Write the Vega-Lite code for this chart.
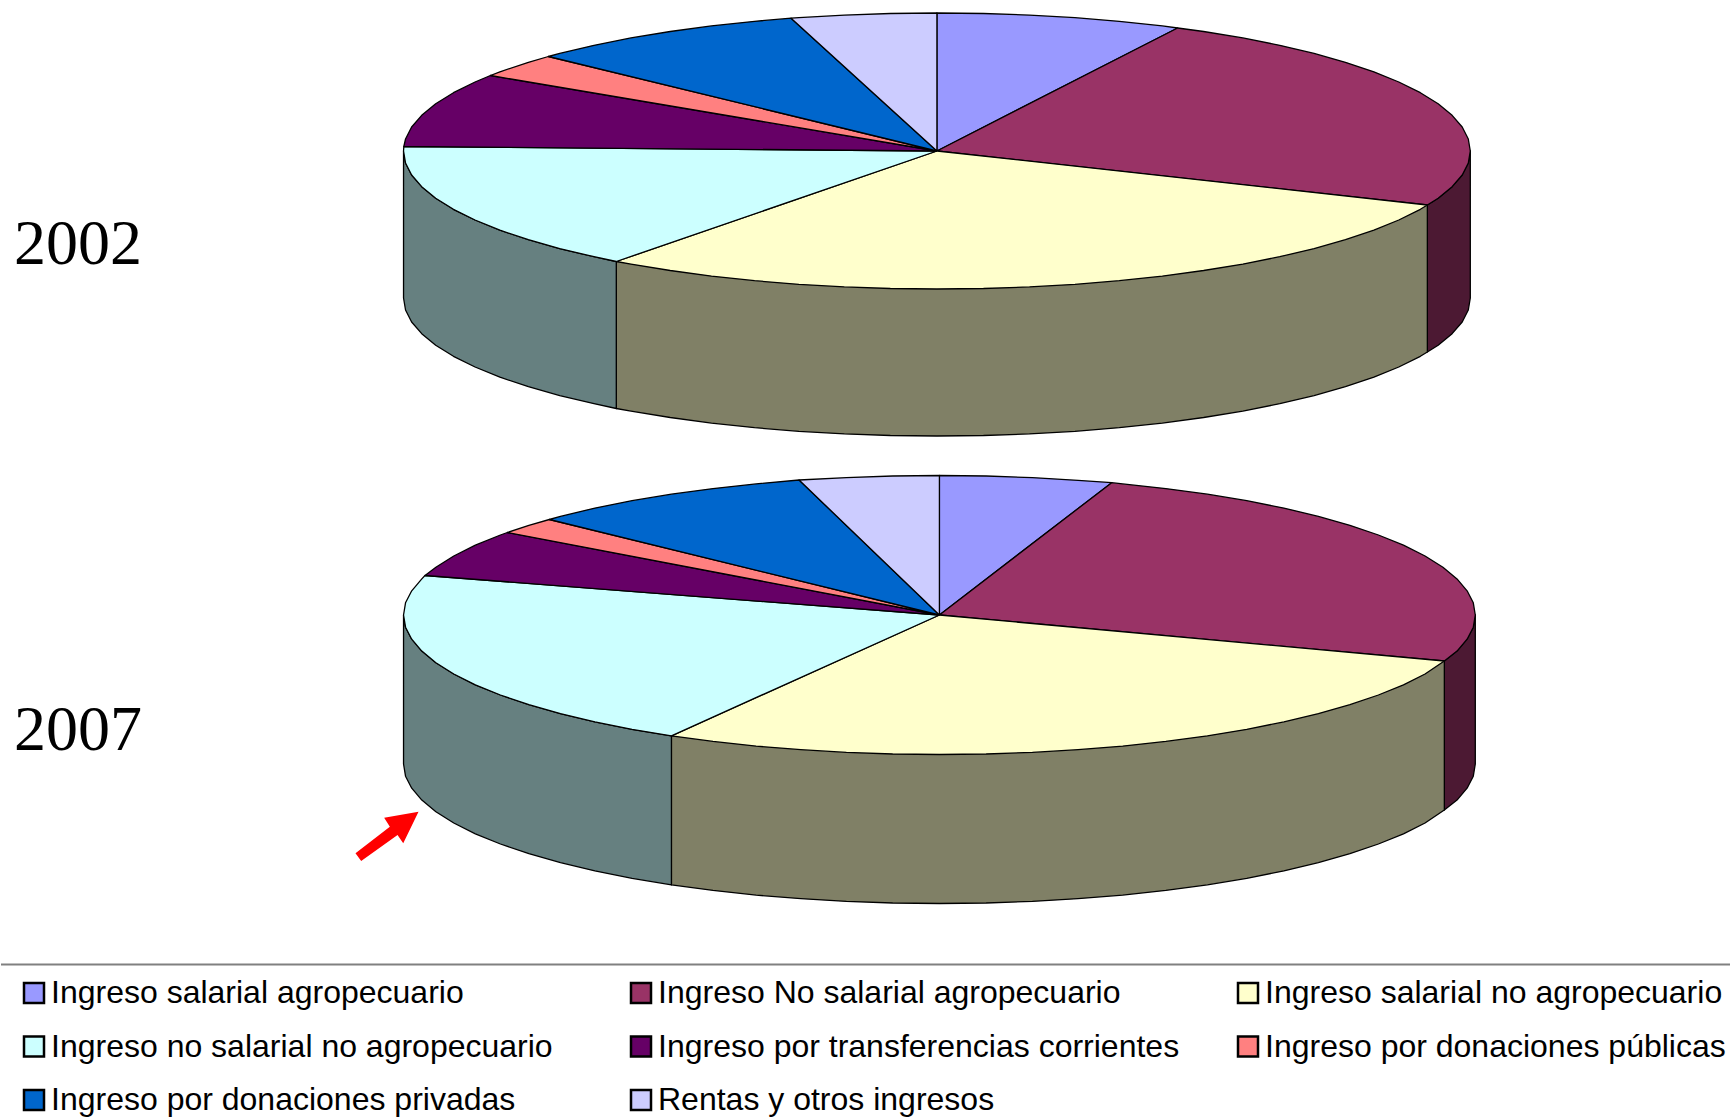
{"$schema":"https://vega.github.io/schema/vega-lite/v6.json","width":1731,"height":1117,"autosize":{"type":"fit","contains":"padding"},"padding":0,"background":"white","config":{"view":{"stroke":null}},
"datasets":{
"slices":[{"c":1,"name":"Ingreso salarial agropecuario"},{"c":2,"name":"Ingreso No salarial agropecuario"},{"c":3,"name":"Ingreso salarial no agropecuario"},{"c":4,"name":"Ingreso no salarial no agropecuario"},{"c":5,"name":"Ingreso por transferencias corrientes"},{"c":6,"name":"Ingreso por donaciones públicas"},{"c":7,"name":"Ingreso por donaciones privadas"},{"c":8,"name":"Rentas y otros ingresos"}],
"tops":[
{"year":2002,"c":1,"i":0,"x":937,"y":151},{"year":2002,"c":1,"i":1,"x":937,"y":13},{"year":2002,"c":1,"i":2,"x":983.6,"y":13.5},{"year":2002,"c":1,"i":3,"x":1029.7,"y":15.1},{"year":2002,"c":1,"i":4,"x":1075.2,"y":17.7},{"year":2002,"c":1,"i":5,"x":1119.6,"y":21.3},{"year":2002,"c":1,"i":6,"x":1162.7,"y":25.9},{"year":2002,"c":1,"i":7,"x":1178,"y":28},{"year":2002,"c":1,"i":8,"x":937,"y":151},
{"year":2002,"c":2,"i":0,"x":937,"y":151},{"year":2002,"c":2,"i":1,"x":1178,"y":28},{"year":2002,"c":2,"i":2,"x":1204,"y":31.5},{"year":2002,"c":2,"i":3,"x":1243.3,"y":37.9},{"year":2002,"c":2,"i":4,"x":1280.3,"y":45.3},{"year":2002,"c":2,"i":5,"x":1314.6,"y":53.4},{"year":2002,"c":2,"i":6,"x":1346,"y":62.3},{"year":2002,"c":2,"i":7,"x":1374.5,"y":71.8},{"year":2002,"c":2,"i":8,"x":1399.4,"y":82},{"year":2002,"c":2,"i":9,"x":1421,"y":92.7},{"year":2002,"c":2,"i":10,"x":1438.8,"y":103.8},{"year":2002,"c":2,"i":11,"x":1452.8,"y":115.3},{"year":2002,"c":2,"i":12,"x":1462.9,"y":127},{"year":2002,"c":2,"i":13,"x":1469,"y":139},{"year":2002,"c":2,"i":14,"x":1471,"y":151},{"year":2002,"c":2,"i":15,"x":1469,"y":163},{"year":2002,"c":2,"i":16,"x":1462.9,"y":175},{"year":2002,"c":2,"i":17,"x":1452.8,"y":186.7},{"year":2002,"c":2,"i":18,"x":1438.8,"y":198.2},{"year":2002,"c":2,"i":19,"x":1428,"y":205},{"year":2002,"c":2,"i":20,"x":937,"y":151},
{"year":2002,"c":3,"i":0,"x":937,"y":151},{"year":2002,"c":3,"i":1,"x":1428,"y":205},{"year":2002,"c":3,"i":2,"x":1421,"y":209.3},{"year":2002,"c":3,"i":3,"x":1399.4,"y":220},{"year":2002,"c":3,"i":4,"x":1374.5,"y":230.2},{"year":2002,"c":3,"i":5,"x":1346,"y":239.7},{"year":2002,"c":3,"i":6,"x":1314.6,"y":248.6},{"year":2002,"c":3,"i":7,"x":1280.3,"y":256.7},{"year":2002,"c":3,"i":8,"x":1243.3,"y":264.1},{"year":2002,"c":3,"i":9,"x":1204,"y":270.5},{"year":2002,"c":3,"i":10,"x":1162.7,"y":276.1},{"year":2002,"c":3,"i":11,"x":1119.6,"y":280.7},{"year":2002,"c":3,"i":12,"x":1075.2,"y":284.3},{"year":2002,"c":3,"i":13,"x":1029.7,"y":286.9},{"year":2002,"c":3,"i":14,"x":983.6,"y":288.5},{"year":2002,"c":3,"i":15,"x":937,"y":289},{"year":2002,"c":3,"i":16,"x":890.4,"y":288.5},{"year":2002,"c":3,"i":17,"x":844.3,"y":286.9},{"year":2002,"c":3,"i":18,"x":798.8,"y":284.3},{"year":2002,"c":3,"i":19,"x":754.4,"y":280.7},{"year":2002,"c":3,"i":20,"x":711.3,"y":276.1},{"year":2002,"c":3,"i":21,"x":670,"y":270.5},{"year":2002,"c":3,"i":22,"x":630.7,"y":264.1},{"year":2002,"c":3,"i":23,"x":616,"y":261.5},{"year":2002,"c":3,"i":24,"x":937,"y":151},
{"year":2002,"c":4,"i":0,"x":937,"y":151},{"year":2002,"c":4,"i":1,"x":616,"y":261.5},{"year":2002,"c":4,"i":2,"x":593.7,"y":256.7},{"year":2002,"c":4,"i":3,"x":559.4,"y":248.6},{"year":2002,"c":4,"i":4,"x":528,"y":239.7},{"year":2002,"c":4,"i":5,"x":499.5,"y":230.2},{"year":2002,"c":4,"i":6,"x":474.6,"y":220},{"year":2002,"c":4,"i":7,"x":453,"y":209.3},{"year":2002,"c":4,"i":8,"x":435.2,"y":198.2},{"year":2002,"c":4,"i":9,"x":421.2,"y":186.7},{"year":2002,"c":4,"i":10,"x":411.1,"y":175},{"year":2002,"c":4,"i":11,"x":405,"y":163},{"year":2002,"c":4,"i":12,"x":403,"y":151},{"year":2002,"c":4,"i":13,"x":403.3,"y":146.5},{"year":2002,"c":4,"i":14,"x":937,"y":151},
{"year":2002,"c":5,"i":0,"x":937,"y":151},{"year":2002,"c":5,"i":1,"x":403.3,"y":146.5},{"year":2002,"c":5,"i":2,"x":405,"y":139},{"year":2002,"c":5,"i":3,"x":411.1,"y":127},{"year":2002,"c":5,"i":4,"x":421.2,"y":115.3},{"year":2002,"c":5,"i":5,"x":435.2,"y":103.8},{"year":2002,"c":5,"i":6,"x":453,"y":92.7},{"year":2002,"c":5,"i":7,"x":474.6,"y":82},{"year":2002,"c":5,"i":8,"x":490,"y":75.5},{"year":2002,"c":5,"i":9,"x":937,"y":151},
{"year":2002,"c":6,"i":0,"x":937,"y":151},{"year":2002,"c":6,"i":1,"x":490,"y":75.5},{"year":2002,"c":6,"i":2,"x":499.5,"y":71.8},{"year":2002,"c":6,"i":3,"x":528,"y":62.3},{"year":2002,"c":6,"i":4,"x":548,"y":56.5},{"year":2002,"c":6,"i":5,"x":937,"y":151},
{"year":2002,"c":7,"i":0,"x":937,"y":151},{"year":2002,"c":7,"i":1,"x":548,"y":56.5},{"year":2002,"c":7,"i":2,"x":559.4,"y":53.4},{"year":2002,"c":7,"i":3,"x":593.7,"y":45.3},{"year":2002,"c":7,"i":4,"x":630.7,"y":37.9},{"year":2002,"c":7,"i":5,"x":670,"y":31.5},{"year":2002,"c":7,"i":6,"x":711.3,"y":25.9},{"year":2002,"c":7,"i":7,"x":754.4,"y":21.3},{"year":2002,"c":7,"i":8,"x":791,"y":18.2},{"year":2002,"c":7,"i":9,"x":937,"y":151},
{"year":2002,"c":8,"i":0,"x":937,"y":151},{"year":2002,"c":8,"i":1,"x":791,"y":18.2},{"year":2002,"c":8,"i":2,"x":798.8,"y":17.7},{"year":2002,"c":8,"i":3,"x":844.3,"y":15.1},{"year":2002,"c":8,"i":4,"x":890.4,"y":13.5},{"year":2002,"c":8,"i":5,"x":937,"y":13},{"year":2002,"c":8,"i":6,"x":937,"y":151},
{"year":2007,"c":1,"i":0,"x":939.5,"y":615},{"year":2007,"c":1,"i":1,"x":939.5,"y":475.5},{"year":2007,"c":1,"i":2,"x":986.3,"y":476},{"year":2007,"c":1,"i":3,"x":1032.6,"y":477.6},{"year":2007,"c":1,"i":4,"x":1078.3,"y":480.3},{"year":2007,"c":1,"i":5,"x":1112,"y":482.7},{"year":2007,"c":1,"i":6,"x":939.5,"y":615},
{"year":2007,"c":2,"i":0,"x":939.5,"y":615},{"year":2007,"c":2,"i":1,"x":1112,"y":482.7},{"year":2007,"c":2,"i":2,"x":1123,"y":483.9},{"year":2007,"c":2,"i":3,"x":1166.2,"y":488.6},{"year":2007,"c":2,"i":4,"x":1207.8,"y":494.2},{"year":2007,"c":2,"i":5,"x":1247.2,"y":500.7},{"year":2007,"c":2,"i":6,"x":1284.4,"y":508.1},{"year":2007,"c":2,"i":7,"x":1318.9,"y":516.4},{"year":2007,"c":2,"i":8,"x":1350.5,"y":525.3},{"year":2007,"c":2,"i":9,"x":1379,"y":535},{"year":2007,"c":2,"i":10,"x":1404.1,"y":545.2},{"year":2007,"c":2,"i":11,"x":1425.7,"y":556},{"year":2007,"c":2,"i":12,"x":1443.6,"y":567.3},{"year":2007,"c":2,"i":13,"x":1457.7,"y":578.9},{"year":2007,"c":2,"i":14,"x":1467.8,"y":590.8},{"year":2007,"c":2,"i":15,"x":1474,"y":602.8},{"year":2007,"c":2,"i":16,"x":1476,"y":615},{"year":2007,"c":2,"i":17,"x":1474,"y":627.2},{"year":2007,"c":2,"i":18,"x":1467.8,"y":639.2},{"year":2007,"c":2,"i":19,"x":1457.7,"y":651.1},{"year":2007,"c":2,"i":20,"x":1445,"y":661},{"year":2007,"c":2,"i":21,"x":939.5,"y":615},
{"year":2007,"c":3,"i":0,"x":939.5,"y":615},{"year":2007,"c":3,"i":1,"x":1445,"y":661},{"year":2007,"c":3,"i":2,"x":1425.7,"y":674},{"year":2007,"c":3,"i":3,"x":1404.1,"y":684.8},{"year":2007,"c":3,"i":4,"x":1379,"y":695},{"year":2007,"c":3,"i":5,"x":1350.5,"y":704.7},{"year":2007,"c":3,"i":6,"x":1318.9,"y":713.6},{"year":2007,"c":3,"i":7,"x":1284.4,"y":721.9},{"year":2007,"c":3,"i":8,"x":1247.2,"y":729.3},{"year":2007,"c":3,"i":9,"x":1207.8,"y":735.8},{"year":2007,"c":3,"i":10,"x":1166.2,"y":741.4},{"year":2007,"c":3,"i":11,"x":1123,"y":746.1},{"year":2007,"c":3,"i":12,"x":1078.3,"y":749.7},{"year":2007,"c":3,"i":13,"x":1032.6,"y":752.4},{"year":2007,"c":3,"i":14,"x":986.3,"y":754},{"year":2007,"c":3,"i":15,"x":939.5,"y":754.5},{"year":2007,"c":3,"i":16,"x":892.7,"y":754},{"year":2007,"c":3,"i":17,"x":846.4,"y":752.4},{"year":2007,"c":3,"i":18,"x":800.7,"y":749.7},{"year":2007,"c":3,"i":19,"x":756,"y":746.1},{"year":2007,"c":3,"i":20,"x":712.8,"y":741.4},{"year":2007,"c":3,"i":21,"x":671.2,"y":735.8},{"year":2007,"c":3,"i":22,"x":939.5,"y":615},
{"year":2007,"c":4,"i":0,"x":939.5,"y":615},{"year":2007,"c":4,"i":1,"x":671.2,"y":735.8},{"year":2007,"c":4,"i":2,"x":631.8,"y":729.3},{"year":2007,"c":4,"i":3,"x":594.6,"y":721.9},{"year":2007,"c":4,"i":4,"x":560.1,"y":713.6},{"year":2007,"c":4,"i":5,"x":528.5,"y":704.7},{"year":2007,"c":4,"i":6,"x":500,"y":695},{"year":2007,"c":4,"i":7,"x":474.9,"y":684.8},{"year":2007,"c":4,"i":8,"x":453.3,"y":674},{"year":2007,"c":4,"i":9,"x":435.4,"y":662.7},{"year":2007,"c":4,"i":10,"x":421.3,"y":651.1},{"year":2007,"c":4,"i":11,"x":411.2,"y":639.2},{"year":2007,"c":4,"i":12,"x":405,"y":627.2},{"year":2007,"c":4,"i":13,"x":403,"y":615},{"year":2007,"c":4,"i":14,"x":405,"y":602.8},{"year":2007,"c":4,"i":15,"x":411.2,"y":590.8},{"year":2007,"c":4,"i":16,"x":421.3,"y":578.9},{"year":2007,"c":4,"i":17,"x":424.5,"y":575.5},{"year":2007,"c":4,"i":18,"x":939.5,"y":615},
{"year":2007,"c":5,"i":0,"x":939.5,"y":615},{"year":2007,"c":5,"i":1,"x":424.5,"y":575.5},{"year":2007,"c":5,"i":2,"x":435.4,"y":567.3},{"year":2007,"c":5,"i":3,"x":453.3,"y":556},{"year":2007,"c":5,"i":4,"x":474.9,"y":545.2},{"year":2007,"c":5,"i":5,"x":500,"y":535},{"year":2007,"c":5,"i":6,"x":507,"y":532.5},{"year":2007,"c":5,"i":7,"x":939.5,"y":615},
{"year":2007,"c":6,"i":0,"x":939.5,"y":615},{"year":2007,"c":6,"i":1,"x":507,"y":532.5},{"year":2007,"c":6,"i":2,"x":528.5,"y":525.3},{"year":2007,"c":6,"i":3,"x":549,"y":519.5},{"year":2007,"c":6,"i":4,"x":939.5,"y":615},
{"year":2007,"c":7,"i":0,"x":939.5,"y":615},{"year":2007,"c":7,"i":1,"x":549,"y":519.5},{"year":2007,"c":7,"i":2,"x":560.1,"y":516.4},{"year":2007,"c":7,"i":3,"x":594.6,"y":508.1},{"year":2007,"c":7,"i":4,"x":631.8,"y":500.7},{"year":2007,"c":7,"i":5,"x":671.2,"y":494.2},{"year":2007,"c":7,"i":6,"x":712.8,"y":488.6},{"year":2007,"c":7,"i":7,"x":756,"y":483.9},{"year":2007,"c":7,"i":8,"x":799,"y":480},{"year":2007,"c":7,"i":9,"x":939.5,"y":615},
{"year":2007,"c":8,"i":0,"x":939.5,"y":615},{"year":2007,"c":8,"i":1,"x":799,"y":480},{"year":2007,"c":8,"i":2,"x":846.4,"y":477.6},{"year":2007,"c":8,"i":3,"x":892.7,"y":476},{"year":2007,"c":8,"i":4,"x":939.5,"y":475.5},{"year":2007,"c":8,"i":5,"x":939.5,"y":615}
],
"sides":[
{"year":2002,"c":2,"i":0,"x":1428,"y":205},{"year":2002,"c":2,"i":1,"x":1438.8,"y":198.2},{"year":2002,"c":2,"i":2,"x":1452.8,"y":186.7},{"year":2002,"c":2,"i":3,"x":1462.9,"y":175},{"year":2002,"c":2,"i":4,"x":1469,"y":163},{"year":2002,"c":2,"i":5,"x":1471,"y":151},{"year":2002,"c":2,"i":6,"x":1471,"y":298},{"year":2002,"c":2,"i":7,"x":1469,"y":310},{"year":2002,"c":2,"i":8,"x":1462.9,"y":322},{"year":2002,"c":2,"i":9,"x":1452.8,"y":333.7},{"year":2002,"c":2,"i":10,"x":1438.8,"y":345.2},{"year":2002,"c":2,"i":11,"x":1428,"y":352},{"year":2002,"c":2,"i":12,"x":1428,"y":205},
{"year":2002,"c":3,"i":0,"x":616,"y":261.5},{"year":2002,"c":3,"i":1,"x":1428,"y":205},{"year":2002,"c":3,"i":2,"x":1428,"y":352},{"year":2002,"c":3,"i":3,"x":1421,"y":356.3},{"year":2002,"c":3,"i":4,"x":1399.4,"y":367},{"year":2002,"c":3,"i":5,"x":1374.5,"y":377.2},{"year":2002,"c":3,"i":6,"x":1346,"y":386.7},{"year":2002,"c":3,"i":7,"x":1314.6,"y":395.6},{"year":2002,"c":3,"i":8,"x":1280.3,"y":403.7},{"year":2002,"c":3,"i":9,"x":1243.3,"y":411.1},{"year":2002,"c":3,"i":10,"x":1204,"y":417.5},{"year":2002,"c":3,"i":11,"x":1162.7,"y":423.1},{"year":2002,"c":3,"i":12,"x":1119.6,"y":427.7},{"year":2002,"c":3,"i":13,"x":1075.2,"y":431.3},{"year":2002,"c":3,"i":14,"x":1029.7,"y":433.9},{"year":2002,"c":3,"i":15,"x":983.6,"y":435.5},{"year":2002,"c":3,"i":16,"x":937,"y":436},{"year":2002,"c":3,"i":17,"x":890.4,"y":435.5},{"year":2002,"c":3,"i":18,"x":844.3,"y":433.9},{"year":2002,"c":3,"i":19,"x":798.8,"y":431.3},{"year":2002,"c":3,"i":20,"x":754.4,"y":427.7},{"year":2002,"c":3,"i":21,"x":711.3,"y":423.1},{"year":2002,"c":3,"i":22,"x":670,"y":417.5},{"year":2002,"c":3,"i":23,"x":630.7,"y":411.1},{"year":2002,"c":3,"i":24,"x":616,"y":408.5},{"year":2002,"c":3,"i":25,"x":616,"y":261.5},
{"year":2002,"c":4,"i":0,"x":616,"y":261.5},{"year":2002,"c":4,"i":1,"x":593.7,"y":256.7},{"year":2002,"c":4,"i":2,"x":559.4,"y":248.6},{"year":2002,"c":4,"i":3,"x":528,"y":239.7},{"year":2002,"c":4,"i":4,"x":499.5,"y":230.2},{"year":2002,"c":4,"i":5,"x":474.6,"y":220},{"year":2002,"c":4,"i":6,"x":453,"y":209.3},{"year":2002,"c":4,"i":7,"x":435.2,"y":198.2},{"year":2002,"c":4,"i":8,"x":421.2,"y":186.7},{"year":2002,"c":4,"i":9,"x":411.1,"y":175},{"year":2002,"c":4,"i":10,"x":405,"y":163},{"year":2002,"c":4,"i":11,"x":403,"y":151},{"year":2002,"c":4,"i":12,"x":403,"y":298},{"year":2002,"c":4,"i":13,"x":405,"y":310},{"year":2002,"c":4,"i":14,"x":411.1,"y":322},{"year":2002,"c":4,"i":15,"x":421.2,"y":333.7},{"year":2002,"c":4,"i":16,"x":435.2,"y":345.2},{"year":2002,"c":4,"i":17,"x":453,"y":356.3},{"year":2002,"c":4,"i":18,"x":474.6,"y":367},{"year":2002,"c":4,"i":19,"x":499.5,"y":377.2},{"year":2002,"c":4,"i":20,"x":528,"y":386.7},{"year":2002,"c":4,"i":21,"x":559.4,"y":395.6},{"year":2002,"c":4,"i":22,"x":593.7,"y":403.7},{"year":2002,"c":4,"i":23,"x":616,"y":408.5},{"year":2002,"c":4,"i":24,"x":616,"y":261.5},
{"year":2007,"c":2,"i":0,"x":1445,"y":661},{"year":2007,"c":2,"i":1,"x":1457.7,"y":651.1},{"year":2007,"c":2,"i":2,"x":1467.8,"y":639.2},{"year":2007,"c":2,"i":3,"x":1474,"y":627.2},{"year":2007,"c":2,"i":4,"x":1476,"y":615},{"year":2007,"c":2,"i":5,"x":1476,"y":764},{"year":2007,"c":2,"i":6,"x":1474,"y":776.2},{"year":2007,"c":2,"i":7,"x":1467.8,"y":788.2},{"year":2007,"c":2,"i":8,"x":1457.7,"y":800.1},{"year":2007,"c":2,"i":9,"x":1445,"y":810},{"year":2007,"c":2,"i":10,"x":1445,"y":661},
{"year":2007,"c":3,"i":0,"x":671.2,"y":735.8},{"year":2007,"c":3,"i":1,"x":1445,"y":661},{"year":2007,"c":3,"i":2,"x":1445,"y":810},{"year":2007,"c":3,"i":3,"x":1425.7,"y":823},{"year":2007,"c":3,"i":4,"x":1404.1,"y":833.8},{"year":2007,"c":3,"i":5,"x":1379,"y":844},{"year":2007,"c":3,"i":6,"x":1350.5,"y":853.7},{"year":2007,"c":3,"i":7,"x":1318.9,"y":862.6},{"year":2007,"c":3,"i":8,"x":1284.4,"y":870.9},{"year":2007,"c":3,"i":9,"x":1247.2,"y":878.3},{"year":2007,"c":3,"i":10,"x":1207.8,"y":884.8},{"year":2007,"c":3,"i":11,"x":1166.2,"y":890.4},{"year":2007,"c":3,"i":12,"x":1123,"y":895.1},{"year":2007,"c":3,"i":13,"x":1078.3,"y":898.7},{"year":2007,"c":3,"i":14,"x":1032.6,"y":901.4},{"year":2007,"c":3,"i":15,"x":986.3,"y":903},{"year":2007,"c":3,"i":16,"x":939.5,"y":903.5},{"year":2007,"c":3,"i":17,"x":892.7,"y":903},{"year":2007,"c":3,"i":18,"x":846.4,"y":901.4},{"year":2007,"c":3,"i":19,"x":800.7,"y":898.7},{"year":2007,"c":3,"i":20,"x":756,"y":895.1},{"year":2007,"c":3,"i":21,"x":712.8,"y":890.4},{"year":2007,"c":3,"i":22,"x":671.2,"y":884.8},{"year":2007,"c":3,"i":23,"x":671.2,"y":735.8},
{"year":2007,"c":4,"i":0,"x":671.2,"y":735.8},{"year":2007,"c":4,"i":1,"x":631.8,"y":729.3},{"year":2007,"c":4,"i":2,"x":594.6,"y":721.9},{"year":2007,"c":4,"i":3,"x":560.1,"y":713.6},{"year":2007,"c":4,"i":4,"x":528.5,"y":704.7},{"year":2007,"c":4,"i":5,"x":500,"y":695},{"year":2007,"c":4,"i":6,"x":474.9,"y":684.8},{"year":2007,"c":4,"i":7,"x":453.3,"y":674},{"year":2007,"c":4,"i":8,"x":435.4,"y":662.7},{"year":2007,"c":4,"i":9,"x":421.3,"y":651.1},{"year":2007,"c":4,"i":10,"x":411.2,"y":639.2},{"year":2007,"c":4,"i":11,"x":405,"y":627.2},{"year":2007,"c":4,"i":12,"x":403,"y":615},{"year":2007,"c":4,"i":13,"x":403,"y":764},{"year":2007,"c":4,"i":14,"x":405,"y":776.2},{"year":2007,"c":4,"i":15,"x":411.2,"y":788.2},{"year":2007,"c":4,"i":16,"x":421.3,"y":800.1},{"year":2007,"c":4,"i":17,"x":435.4,"y":811.7},{"year":2007,"c":4,"i":18,"x":453.3,"y":823},{"year":2007,"c":4,"i":19,"x":474.9,"y":833.8},{"year":2007,"c":4,"i":20,"x":500,"y":844},{"year":2007,"c":4,"i":21,"x":528.5,"y":853.7},{"year":2007,"c":4,"i":22,"x":560.1,"y":862.6},{"year":2007,"c":4,"i":23,"x":594.6,"y":870.9},{"year":2007,"c":4,"i":24,"x":631.8,"y":878.3},{"year":2007,"c":4,"i":25,"x":671.2,"y":884.8},{"year":2007,"c":4,"i":26,"x":671.2,"y":735.8}
]},
"encoding":{"x":{"field":"x","type":"quantitative","scale":{"domain":[0,1731]},"axis":null},"y":{"field":"y","type":"quantitative","scale":{"domain":[1117,0]},"axis":null}},
"layer":[
{"data":{"name":"sides"},"transform":[{"lookup":"c","from":{"data":{"name":"slices"},"key":"c","fields":["name"]}}],"mark":{"type":"line","filled":true,"stroke":"black","strokeWidth":1.3,"strokeJoin":"round"},"encoding":{"detail":{"field":"year"},"order":{"field":"i","type":"quantitative"},"color":{"field":"name","type":"nominal","legend":null,"scale":{"domain":["Ingreso No salarial agropecuario","Ingreso salarial no agropecuario","Ingreso no salarial no agropecuario"],"range":["#4c1933","#808066","#668080"]}}}},
{"data":{"name":"tops"},"transform":[{"lookup":"c","from":{"data":{"name":"slices"},"key":"c","fields":["name"]}}],"mark":{"type":"line","filled":true,"stroke":"black","strokeWidth":1.3,"strokeJoin":"round"},"encoding":{"detail":{"field":"year"},"order":{"field":"i","type":"quantitative"},"color":{"field":"name","type":"nominal","scale":{"domain":["Ingreso salarial agropecuario","Ingreso No salarial agropecuario","Ingreso salarial no agropecuario","Ingreso no salarial no agropecuario","Ingreso por transferencias corrientes","Ingreso por donaciones públicas","Ingreso por donaciones privadas","Rentas y otros ingresos"],"range":["#9999ff","#993366","#ffffcc","#ccffff","#660066","#ff8080","#0066cc","#ccccff"]},"legend":{"title":null,"orient":"none","direction":"horizontal","legendX":17,"legendY":977,"columns":3,"gridAlign":"all","symbolType":"square","symbolSize":400,"symbolStrokeWidth":2.5,"symbolStrokeColor":"black","labelFont":"Liberation Sans","labelFontSize":32,"labelColor":"black","labelLimit":700,"labelOffset":1,"rowPadding":21.5,"columnPadding":52,"padding":0}}}},
{"data":{"values":[{"x":418,"y":811.7,"i":0},{"x":383.6,"y":817.7,"i":1},{"x":389.3,"y":826.7,"i":2},{"x":354.9,"y":853.3,"i":3},{"x":360.6,"y":861,"i":4},{"x":397,"y":835,"i":5},{"x":402.7,"y":843.3,"i":6},{"x":418,"y":811.7,"i":7}]},"mark":{"type":"line","filled":true,"fill":"#ff0000","stroke":null},"encoding":{"order":{"field":"i","type":"quantitative"}}},
{"data":{"values":[{"x":0,"x2":1731,"y":964.5}]},"mark":{"type":"rule","stroke":"#808080","strokeWidth":2},"encoding":{"x2":{"field":"x2"}}},
{"data":{"values":[{"x":13,"y":264,"label":"2002"},{"x":13,"y":750,"label":"2007"}]},"mark":{"type":"text","align":"left","baseline":"alphabetic","font":"Liberation Serif","fontSize":64,"color":"black"},"encoding":{"text":{"field":"label"}}}
],
"resolve":{"scale":{"color":"independent"}}}
